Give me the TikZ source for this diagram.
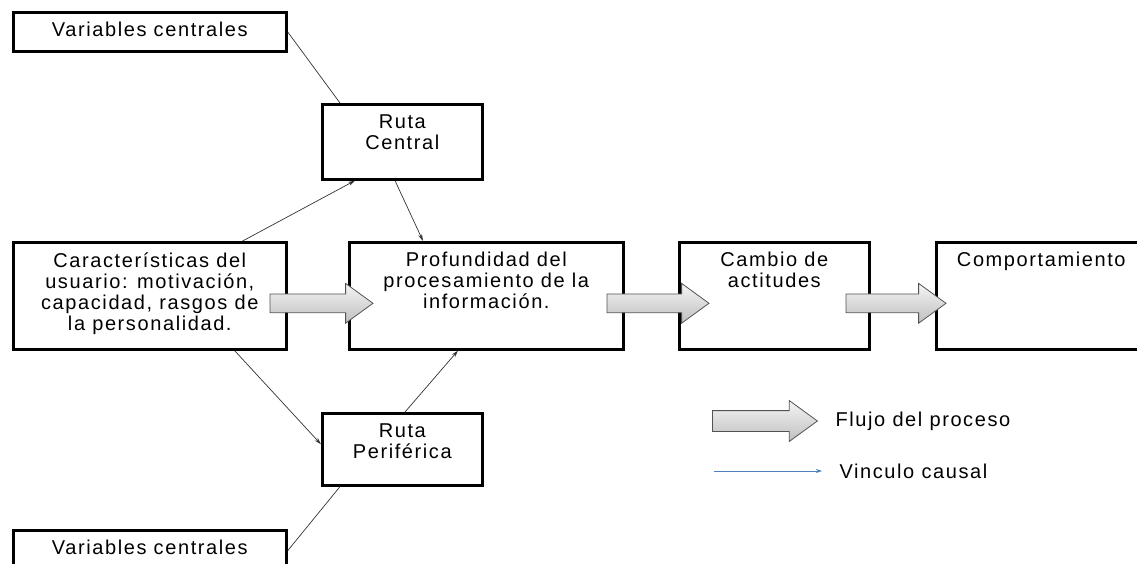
\documentclass[tikz,border=0pt]{standalone}
\usepackage{fontspec}
\setmainfont[LetterSpace=8]{Liberation Sans}
\usetikzlibrary{positioning,shapes.arrows,arrows.meta}
\definecolor{azulvinculo}{RGB}{79,129,189}
\newcommand{\txtcaja}[3]{\parbox[t][\dimexpr#2pt-20pt\relax][t]{#1pt}{\centering #3}}

\begin{document}
\begin{tikzpicture}[x=1pt, y=-1pt, font=\fontsize{20}{21}\selectfont,
    caja/.style={draw, line width=2.6pt, anchor=north west, inner xsep=0pt, inner ysep=10pt},
    flujo/.style={single arrow, draw=gray!65!black, top color=gray!8, bottom color=gray!50,
      line width=0.8pt, inner xsep=0pt, inner ysep=9pt, single arrow head extend=10.5pt,
      single arrow tip angle=72, anchor=tail},
    causal/.style={draw=black!80, line width=0.7pt, -{Stealth[length=7pt, width=4pt]}},
    enlace/.style={draw=black!80, line width=0.7pt}]
  \useasboundingbox (0,0) rectangle (1137,564);

  % cajas
  \node[caja] (vcsup) at (12,11) {\txtcaja{273}{39}{Variables centrales}};
  \node[caja] (rcentral) at (321,103) {\txtcaja{160}{75}{Ruta\\Central}};
  \node[caja] (usuario) at (12,241) {\txtcaja{273}{107}{Características del\\usuario: motivación,\\capacidad, rasgos de\\la personalidad.}};
  \node[caja] (profund) at (348,241) {\txtcaja{274}{107}{Profundidad del\\procesamiento de la\\información.}};
  \node[caja] (cambio) at (678,241) {\txtcaja{190}{107}{Cambio de\\actitudes}};
  \node[caja] (comport) at (935,241) {\txtcaja{210}{107}{Comportamiento}};
  \node[caja] (rperif) at (321,412) {\txtcaja{160}{72}{Ruta\\Periférica}};
  \node[caja] (vcinf) at (12,529) {\txtcaja{273}{39}{Variables centrales}};

  % flujo del proceso
  \node[flujo, minimum height=103pt] (f1) at ([xshift=-18pt, yshift=-7.5pt]usuario.east) {};
  \node[flujo, minimum height=102pt] (f2) at ([xshift=-18pt, yshift=-7.5pt]profund.east) {};
  \node[flujo, minimum height=100pt] (f3) at ([xshift=-25pt, yshift=-7.5pt]cambio.east) {};

  % vinculos causales
  \draw[enlace] (vcsup.east) -- ([xshift=19pt]rcentral.north west);
  \draw[causal] ([xshift=-45pt]usuario.north east) -- ([xshift=34pt]rcentral.south west);
  \draw[causal] ([xshift=74pt]rcentral.south west) -- ([xshift=75pt]profund.north west);
  \draw[causal] ([xshift=-53pt]usuario.south east) -- ([yshift=5pt]rperif.west);
  \draw[causal] ([xshift=84pt]rperif.north west) -- ([xshift=110pt]profund.south west);
  \draw[enlace] ([xshift=19pt]rperif.south west) -- ([yshift=-1pt]vcinf.east);

  % leyenda
  \node[flujo, minimum height=105pt, inner ysep=10pt, single arrow head extend=10pt] (leyflujo) at (712,421) {};
  \node[right=14pt of leyflujo] (txtflujo) {Flujo del proceso};
  \coordinate (cini) at (714,471);
  \coordinate (cfin) at (822,471);
  \draw[draw=azulvinculo, line width=0.7pt, -{Stealth[length=6pt, width=4pt]}] (cini) -- (cfin);
  \node[right=14pt of cfin] (txtcausal) {Vinculo causal};
\end{tikzpicture}
\end{document}
